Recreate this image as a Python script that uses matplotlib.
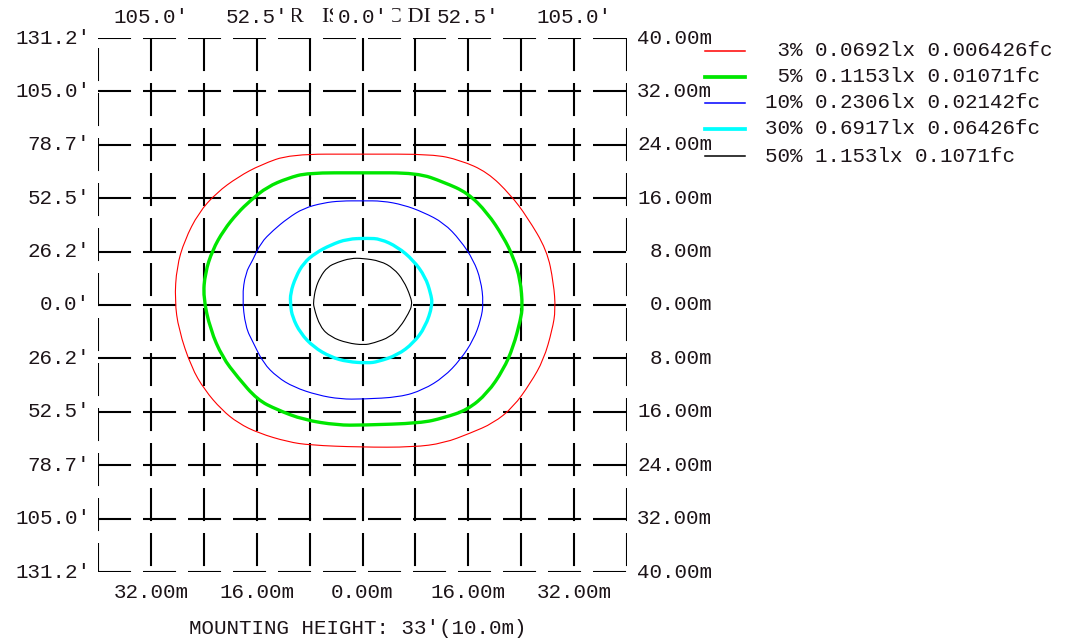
import numpy as np
import matplotlib
from matplotlib import pyplot as plt
from matplotlib.path import Path
from matplotlib.patches import PathPatch

matplotlib.rcParams['font.family'] = 'Liberation Mono'
matplotlib.rcParams['font.size'] = 15
matplotlib.rcParams['lines.scale_dashes'] = False

### grid / tick labels (metres, feet)
grid_m = np.arange(-40, 41, 8)
left_labels = ["131.2'", "105.0'", "78.7'", "52.5'", "26.2'", "0.0'",
               "26.2'", "52.5'", "78.7'", "105.0'", "131.2'"]          # top -> bottom
right_labels = ["40.00m", "32.00m", "24.00m", "16.00m", "8.00m", "0.00m",
                "8.00m", "16.00m", "24.00m", "32.00m", "40.00m"]
x_ticks = [-32, -16, 0, 16, 32]
top_labels = ["105.0'", "52.5'", "0.0'", "52.5'", "105.0'"]
bottom_labels = ["32.00m", "16.00m", "0.00m", "16.00m", "32.00m"]

### iso contours (metres)
red_x = [0, 10.6, 14.8, 18.9, 22.4, 24.9, 27.9, 28.9, 29.2, 28.7, 27.4, 25.4, 22.8, 19.8, 16.3, 12.3, 7.7,
         -0.3, -7.9, -11.3, -15.7, -18.8, -21.3, -23.9, -25.9, -27.8, -28.4, -28.1, -26.9, -24.8, -22.1,
         -18.8, -15.4, -10.9, 0]
red_y = [22.6, 22.6, 21.7, 19.9, 16.5, 13.2, 8.2, 3.3, -0.7, -3.7, -8.2, -11.7, -15.3, -17.7, -19.2, -20.7,
         -21.3, -21.3, -21.0, -20.5, -19.2, -17.7, -15.7, -12.7, -9.3, -3.7, 0.7, 5.7, 9.7, 13.8, 16.8,
         19.2, 21.0, 22.6, 22.6]
green_x = [0, 8.3, 12.3, 15.9, 18.9, 21.3, 22.8, 23.9, 24.2, 23.9, 22.8, 21.3, 18.9, 15.9, 12.3, 8.8, 0,
           -3.8, -8.9, -12.9, -15.9, -18.9, -21.2, -23.0, -24.1, -23.8, -22.7, -21.0, -18.9, -16.9, -14.4,
           -11.3, -8.3, 0]
green_y = [19.8, 19.8, 18.4, 16.8, 13.8, 10.2, 7.2, 3.7, -0.3, -2.2, -6.3, -9.7, -13.2, -15.7, -16.9, -17.7,
           -18.0, -18.0, -17.2, -15.7, -14.2, -10.8, -7.8, -3.7, 1.2, 4.8, 8.2, 11.2, 13.8, 15.7, 17.7,
           19.0, 19.8, 19.8]
blue_x = [0, 3.0, 6.2, 9.2, 12.3, 14.8, 16.8, 17.9, 18.3, 17.9, 16.8, 14.8, 12.3, 9.2, 5.7, 0, -3.3, -6.8,
          -10.4, -12.9, -15.0, -16.5, -17.7, -18.2, -17.7, -16.6, -15.4, -13.5, -11.3, -8.9, -5.9, -3.3, 0]
blue_y = [15.6, 15.6, 15.0, 13.9, 12.3, 9.7, 6.7, 3.7, 0.3, -2.2, -5.2, -8.2, -10.8, -12.7, -13.8, -14.1,
          -14.1, -13.5, -12.3, -10.8, -8.7, -5.7, -3.3, 1.2, 4.8, 6.7, 9.3, 11.2, 13.0, 14.5, 15.3, 15.6, 15.6]
cyan_x = [0.8, 2.7, 5.3, 7.7, 9.5, 10.3, 10.6, 9.5, 7.7, 5.3, 2.3, 0.8, -2.3, -4.8, -7.4, -9.4, -10.6,
          -10.9, -10.9, -10.1, -8.9, -7.1, -4.8, -2.3, 0.8]
cyan_y = [10.0, 9.9, 8.7, 6.7, 4.2, 1.8, 0.0, -3.3, -5.7, -7.5, -8.5, -8.7, -8.5, -7.8, -6.3, -4.2, -1.8,
          0.0, 1.8, 4.2, 6.3, 7.8, 9.0, 9.9, 10.0]
black_x = [0, 2.7, 4.7, 6.2, 7.3, 7.5, 7.0, 5.7, 4.2, 1.7, 0.2, -2.3, -4.8, -6.4, -7.4, -7.4, -7.1, -6.4,
           -5.3, -3.8, -1.8, 0]
black_y = [7.0, 6.6, 5.5, 3.7, 1.2, 0.0, -1.2, -3.3, -4.8, -5.7, -6.0, -5.7, -4.8, -3.3, -0.3, 0.7, 2.5,
           4.2, 5.7, 6.4, 7.0, 7.0]

### legend
pct = ['3%', '5%', '10%', '30%', '50%']
lux = ['0.0692lx', '0.1153lx', '0.2306lx', '0.6917lx', '1.153lx']
fc = ['0.006426fc', '0.01071fc', '0.02142fc', '0.06426fc', '0.1071fc']
line_colors = ['#ff0000', '#00e600', '#0000ff', '#00ffff', '#000000']
line_widths = [0.8, 2.4, 0.8, 2.4, 0.8]
contours = [(red_x, red_y), (green_x, green_y), (blue_x, blue_y), (cyan_x, cyan_y), (black_x, black_y)]


def closed_curve(xs, ys):
    # closed path with the read points as quadratic bezier controls (smooth corners)
    p = np.column_stack([xs, ys])[:-1]
    n = len(p)
    mids = (p + np.roll(p, -1, axis=0)) / 2
    verts = [mids[-1]]
    codes = [Path.MOVETO]
    for i in range(n):
        verts += [p[i], mids[i]]
        codes += [Path.CURVE3, Path.CURVE3]
    return Path(verts, codes)


txt_col = '#1c1418'
W, H = 1085, 640
fig = plt.figure(figsize=(W/100, H/100), dpi=100)

# background axes in pixel coords: title fragments + legend
lax = fig.add_axes([0, 0, 1, 1])
lax.set_xlim(0, W)
lax.set_ylim(H, 0)
lax.axis('off')
lax.set_zorder(0)
lax.text(288, 17, 'R', family='Liberation Serif', fontsize=16, color=txt_col, ha='left', va='center')
lax.text(321, 17, 'IS', family='Liberation Serif', fontsize=16, color=txt_col, ha='left', va='center')
lax.text(431, 17, 'C DI', family='Liberation Serif', fontsize=16, color=txt_col, ha='right', va='center')

leg_y = [51, 77, 103, 129, 156]
for i in range(len(pct)):
    lax.plot([705, 745], [leg_y[i], leg_y[i]], color=line_colors[i], lw=line_widths[i] + 0.3)
    lax.text(765, leg_y[i], '%3s %s %s' % (pct[i], lux[i], fc[i]), color=txt_col, ha='left', va='center')

# main plot
L, R, T, B = 98, 627, 38, 572
ax = fig.add_axes([L/W, (H-B)/H, (R-L)/W, (B-T)/H])
ax.set_zorder(1)
ax.patch.set_alpha(0)
ax.set_xlim(-40, 40)
ax.set_ylim(-40, 40)
ax.axis('off')

dash = (0, (23.8, 8.6))
for g in grid_m:
    ax.plot([-40, 40], [g, g], color='black', lw=1.5, linestyle=dash, dash_capstyle='butt')
    ls = (25.2, (23.8, 8.6)) if g == -40 else dash
    ax.plot([g, g], [40, -40], color='black', lw=1.5, linestyle=ls, dash_capstyle='butt')

for (cx, cy), c, lw in zip(contours, line_colors, line_widths):
    ax.add_patch(PathPatch(closed_curve(cx, cy), facecolor='none', edgecolor=c, lw=lw, zorder=5))

# tick labels
for g, lab in zip(grid_m[::-1], left_labels):
    ax.text(-0.015, g, lab, transform=ax.get_yaxis_transform(), ha='right', va='center', color=txt_col)
for g, lab in zip(grid_m[::-1], right_labels):
    ax.text(1.1607, g, lab, transform=ax.get_yaxis_transform(), ha='right', va='center', color=txt_col)
for xt, lab in zip(x_ticks, top_labels):
    ax.text(xt, 1.0375, lab, transform=ax.get_xaxis_transform(), ha='center', va='center', color=txt_col,
            bbox=dict(facecolor='white', edgecolor='none', pad=3.0))
for xt, lab in zip(x_ticks, bottom_labels):
    ax.text(xt, -0.0393, lab, transform=ax.get_xaxis_transform(), ha='center', va='center', color=txt_col)

ax.text(0.4915, -0.1067, "MOUNTING HEIGHT: 33'(10.0m)", transform=ax.transAxes,
        ha='center', va='center', color=txt_col)

plt.savefig('out.png', dpi=100)
